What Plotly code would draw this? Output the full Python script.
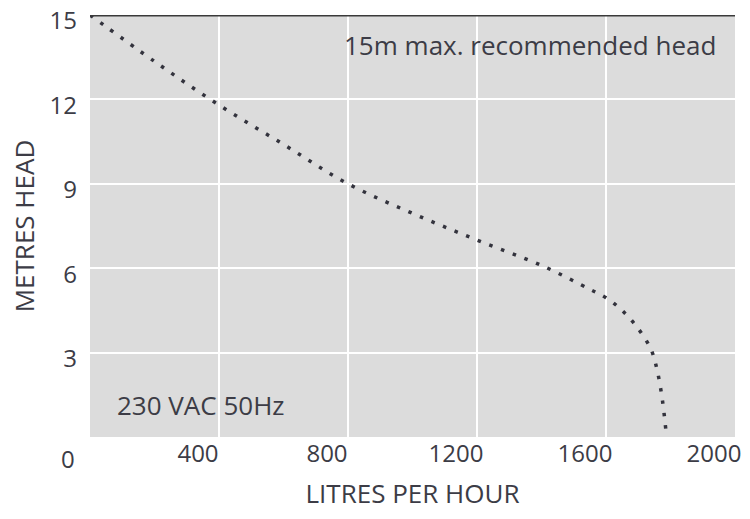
import plotly.graph_objects as go

# Dados da curva de desempenho (leitura do grafico)
vazao = [0, 200, 400, 600, 800, 1000, 1200, 1400, 1550, 1600, 1650, 1700, 1740, 1760, 1775, 1786]
altura = [15, 13.35, 11.8, 10.4, 9.0, 7.95, 7.0, 6.1, 5.25, 4.95, 4.5, 3.85, 3.1, 2.3, 1.3, 0.2]

xticks = [400, 800, 1200, 1600, 2000]
yticks = [3, 6, 9, 12, 15]
max_head = 15

cor_texto = "#3c3c46"
fonte = "Open Sans"

# Cria a figura
fig = go.Figure(go.Scatter(x=vazao, y=altura, mode="lines", line_shape="spline",
                           line=dict(color="#33333d", width=3.5, dash="3.5px,9px"),
                           showlegend=False, hoverinfo="skip"))

# Linha da altura maxima
fig.add_shape(type="line", xref="paper", x0=0, x1=1, yref="y", y0=max_head, y1=max_head,
              line=dict(color="#3a3a3a", width=3))

fonte_titulo = dict(family=fonte, size=26, color=cor_texto)

# Layout
fig.update_layout(width=750, height=519,
                  margin=dict(l=90, r=15, t=15, b=82),
                  paper_bgcolor="white", plot_bgcolor="#dcdcdc",
                  font=dict(family=fonte, size=24, color=cor_texto),
                  xaxis=dict(range=[0, 2000], tickvals=xticks, showgrid=True, gridcolor="white",
                             gridwidth=2, zeroline=False, showline=False, ticks="",
                             ticklabelshift=-21, automargin=False, ticklabeloverflow="allow",
                             title=dict(text="LITRES PER HOUR", standoff=16, font=fonte_titulo)),
                  yaxis=dict(range=[0, 15], tickvals=yticks, showgrid=True, gridcolor="white",
                             gridwidth=2, zeroline=False, showline=False, ticks="",
                             ticklabelstandoff=12, ticklabelshift=6, automargin=False,
                             ticklabeloverflow="allow",
                             title=dict(text="METRES HEAD", standoff=7, font=fonte_titulo)))

fig.add_annotation(text="15m max. recommended head", xref="paper", yref="paper",
                   x=0.974, y=0.929, xanchor="right", yanchor="middle", showarrow=False,
                   font=dict(size=26))
fig.add_annotation(text="230 VAC 50Hz", xref="paper", yref="paper",
                   x=0.039, y=0.076, xanchor="left", yanchor="middle", showarrow=False,
                   font=dict(size=26))
fig.add_annotation(text="0", xref="paper", yref="paper",
                   x=-0.02, y=-0.05, xanchor="right", yanchor="middle", showarrow=False)

# Tira a margem padrao do body para a figura ocupar a janela toda
fig.write_html("out.html", config={"displayModeBar": False},
               post_script="document.body.style.margin = '0';")
